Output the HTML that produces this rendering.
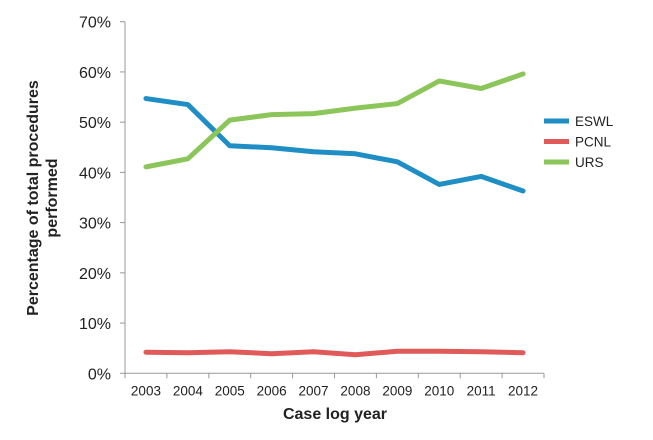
<!DOCTYPE html>
<html><head><meta charset="utf-8"><style>
body{margin:0;background:#fff;width:653px;height:435px;overflow:hidden}
svg text{font-family:"Liberation Sans",Arial,sans-serif;fill:#222}
</style></head><body>
<svg width="653" height="435">
<g id="axes"></g><g id="series"></g>
<text x="335" y="419" text-anchor="middle" font-size="16" font-weight="bold">Case log year</text>
<text transform="translate(38,198) rotate(-90)" text-anchor="middle" font-size="16" font-weight="bold"><tspan x="0" y="0">Percentage of total procedures</tspan><tspan x="0" y="19">performed</tspan></text>
<g id="legend"></g>
</svg>
<script>
const years=["2003","2004","2005","2006","2007","2008","2009","2010","2011","2012"];
const eswl=[54.7,53.5,45.3,44.9,44.1,43.7,42.1,37.6,39.2,36.3];
const pcnl=[4.2,4.1,4.3,3.9,4.3,3.7,4.4,4.4,4.3,4.1];
const urs=[41.1,42.7,50.4,51.5,51.7,52.8,53.7,58.2,56.7,59.6];
const yTicks=[0,10,20,30,40,50,60,70];
const seriesNames=["ESWL","PCNL","URS"];
const colors=["#1f8ec4","#e05a5a","#8cc65a"];
const NS="http://www.w3.org/2000/svg";
const x0=125,x1=544,y0=373.3,y70=21.7;
const step=(x1-x0)/years.length;
const X=i=>x0+step*(i+0.5);
const Y=v=>y0-(v/70)*(y0-y70);
function mk(t,a,p){const e=document.createElementNS(NS,t);for(const k in a)e.setAttribute(k,a[k]);p.appendChild(e);return e;}
const ax=document.getElementById('axes');
let l=mk('line',{x1:x0,y1:y70,x2:x0,y2:y0,stroke:'#999'},ax);


l=mk('line',{x1:x0,y1:y0,x2:x1,y2:y0,stroke:'#999'},ax);


yTicks.forEach(v=>{
 mk('line',{x1:x0-5,y1:Y(v),x2:x0,y2:Y(v),stroke:'#999'},ax);
 const t=mk('text',{x:x0-14,y:Y(v)+6,'text-anchor':'end','font-size':'16'},ax);t.textContent=v+'%';
 
 
});
for(let i=0;i<=years.length;i++)mk('line',{x1:x0+step*i,y1:y0,x2:x0+step*i,y2:y0+5,stroke:'#999'},ax);
years.forEach((y,i)=>{const t=mk('text',{x:X(i),y:y0+22,'text-anchor':'middle','font-size':'13.5'},ax);t.textContent=y;
 
 });
const sg=document.getElementById('series');
[eswl,pcnl,urs].forEach((d,s)=>{
 const p=mk('polyline',{points:d.map((v,i)=>X(i)+','+Y(v)).join(' '),fill:'none',stroke:colors[s],'stroke-width':'5','stroke-linejoin':'round','stroke-linecap':'round'},sg);
 
 
});
const lg=document.getElementById('legend');
seriesNames.forEach((n,s)=>{
 const yy=121+s*20.5;
 const g=mk('g',{},lg);
 
 
 mk('line',{x1:544,y1:yy,x2:569,y2:yy,stroke:colors[s],'stroke-width':'5'},g);
 const t=mk('text',{x:575,y:yy+5,'font-size':'13.5'},g);t.textContent=n;
});
</script>
</body></html>
